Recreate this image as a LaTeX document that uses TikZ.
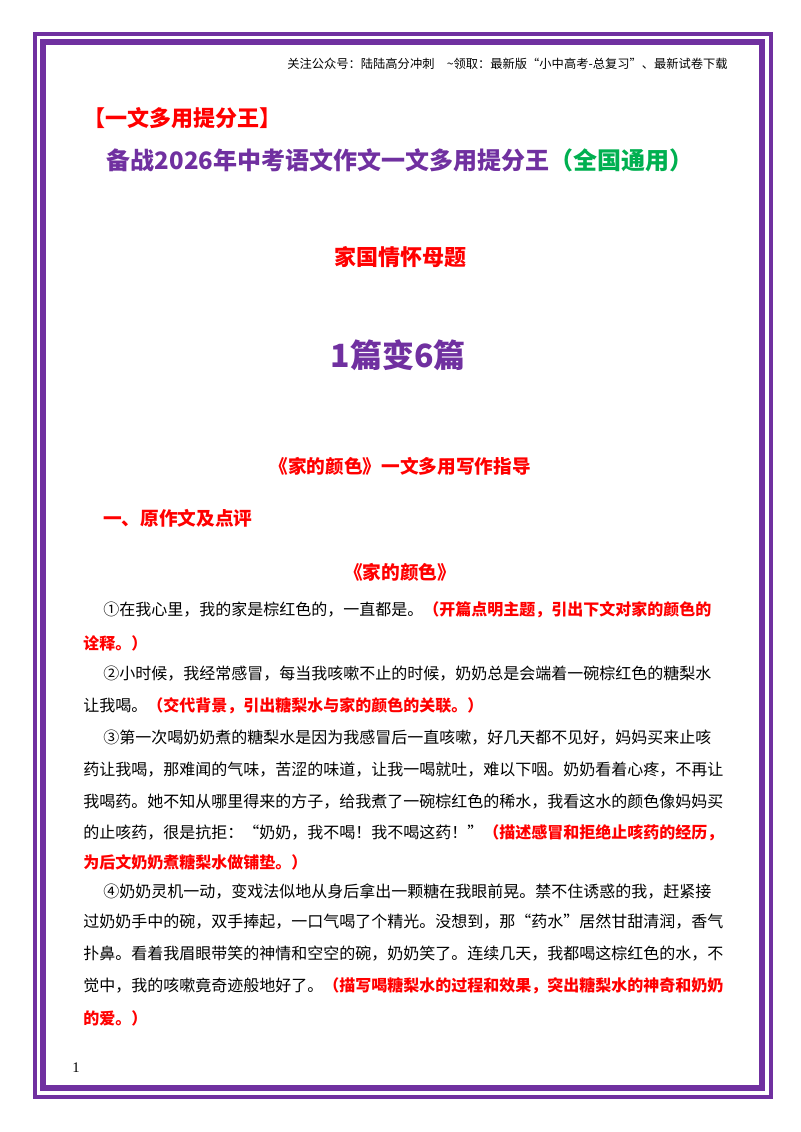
\documentclass[tikz,border=0pt]{standalone}
\usepackage{fontspec}
\setmainfont{Noto Sans CJK SC}
\newfontfamily\numfont{Liberation Serif}
\definecolor{pur}{HTML}{7030A0}
\definecolor{rd}{HTML}{FF0000}
\definecolor{gr}{HTML}{00B050}
\newcommand{\cm}[1]{\textcolor{rd}{\bfseries #1}}
\begin{document}
\begin{tikzpicture}[x=0.75pt,y=-0.75pt,
  body/.style={anchor=west,inner sep=0pt,font=\fontsize{12}{14}\selectfont},
  head/.style={inner sep=0pt,font=\fontsize{16.5}{18}\selectfont\bfseries}]
\useasboundingbox (0,0) rectangle (800,1132);
\fill[white] (0,0) rectangle (800,1132);
\draw[pur,line width=3pt] (34.5,33.5) rectangle (770.5,1096.5);
\draw[pur,line width=3pt] (42,41) rectangle (763,1089);
\draw[pur,line width=0.8pt] (45,44) rectangle (760,1086);
\node[anchor=east,inner sep=0pt,font=\fontsize{9.2}{11}\selectfont] (hdr) at (728,64) {关注公众号：陆陆高分冲刺\quad \textasciitilde 领取：最新版“小中高考-总复习”、最新试卷下载};
\node[head,anchor=west,text=rd] (t1) at (83,118) {【一文多用提分王】};
\node[head,font=\fontsize{18}{20}\selectfont\bfseries,text=pur] (t2) at (400,160) {备战2026年中考语文作文一文多用提分王\textcolor{gr}{（全国通用）}};
\node[head,text=rd] (t3) at (400,257) {家国情怀母题};
\node[inner sep=0pt,font=\fontsize{24}{26}\selectfont\bfseries,text=pur] (t4) at (398,355) {1篇变6篇};
\node[head,font=\fontsize{14}{16}\selectfont\bfseries,text=rd] (t5) at (400,466) {《家的颜色》一文多用写作指导};
\node[head,anchor=west,font=\fontsize{14}{16}\selectfont\bfseries,text=rd] (t6) at (103,518) {一、原作文及点评};
\node[head,font=\fontsize{14}{16}\selectfont\bfseries,text=rd] (t7) at (400,572) {《家的颜色》};
\node[body] (l1) at (103,610) {①在我心里，我的家是棕红色的，一直都是。\cm{（开篇点明主题，引出下文对家的颜色的}};
\node[body] (l2) at (83,643) {\cm{诠释。）}};
\node[body] (l3) at (103,674) {②小时候，我经常感冒，每当我咳嗽不止的时候，奶奶总是会端着一碗棕红色的糖梨水};
\node[body] (l4) at (83,706) {让我喝。\cm{（交代背景，引出糖梨水与家的颜色的关联。）}};
\node[body] (l5) at (103,738) {③第一次喝奶奶煮的糖梨水是因为我感冒后一直咳嗽，好几天都不见好，妈妈买来止咳};
\node[body] (l6) at (83,770) {药让我喝，那难闻的气味，苦涩的味道，让我一喝就吐，难以下咽。奶奶看着心疼，不再让};
\node[body] (l7) at (83,802) {我喝药。她不知从哪里得来的方子，给我煮了一碗棕红色的稀水，我看这水的颜色像妈妈买};
\node[body] (l8) at (83,833) {的止咳药，很是抗拒：“奶奶，我不喝！我不喝这药！”\cm{（描述感冒和拒绝止咳药的经历，}};
\node[body] (l9) at (83,862) {\cm{为后文奶奶煮糖梨水做铺垫。）}};
\node[body] (l10) at (103,891) {④奶奶灵机一动，变戏法似地从身后拿出一颗糖在我眼前晃。禁不住诱惑的我，赶紧接};
\node[body] (l11) at (83,922) {过奶奶手中的碗，双手捧起，一口气喝了个精光。没想到，那“药水”居然甘甜清润，香气};
\node[body] (l12) at (83,954) {扑鼻。看着我眉眼带笑的神情和空空的碗，奶奶笑了。连续几天，我都喝这棕红色的水，不};
\node[body] (l13) at (83,986) {觉中，我的咳嗽竟奇迹般地好了。\cm{（描写喝糖梨水的过程和效果，突出糖梨水的神奇和奶奶}};
\node[body] (l14) at (83,1018) {\cm{的爱。）}};
\node[inner sep=0pt,font=\numfont\fontsize{11}{12}\selectfont] (pg) at (76,1068) {1};
\end{tikzpicture}
\end{document}
